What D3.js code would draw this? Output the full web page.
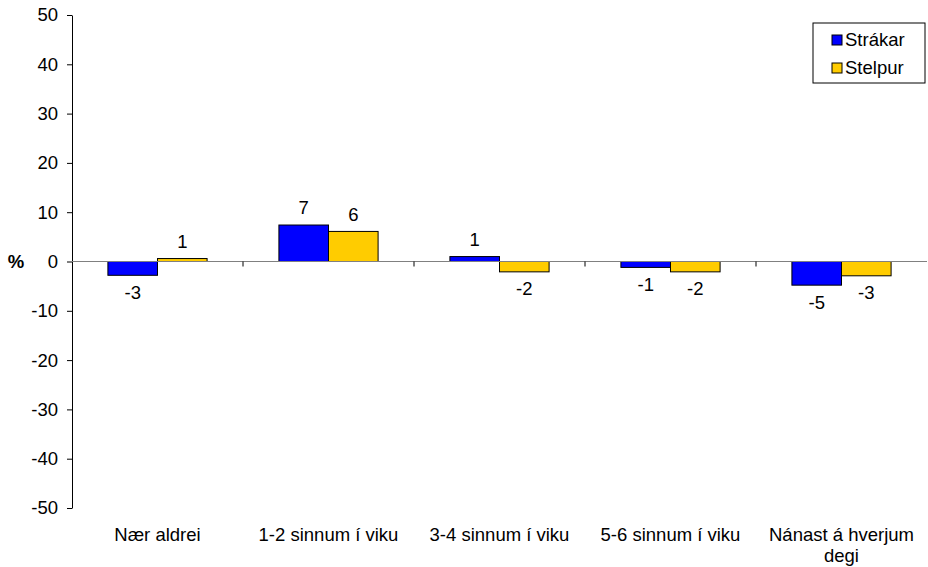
<!DOCTYPE html>
<html>
<head>
<meta charset="utf-8">
<script src="https://cdn.jsdelivr.net/npm/d3@7"></script>
<style>
  html, body { margin: 0; padding: 0; background: #fff; }
  svg { display: block; font-family: "Liberation Sans", Arial, sans-serif; }
</style>
</head>
<body>
<svg id="chart" width="928" height="567"></svg>
<script>
// Categories and series (change in %, boys vs girls)
const categories = ["Nær aldrei", "1-2 sinnum í viku", "3-4 sinnum í viku", "5-6 sinnum í viku", "Nánast á hverjum degi"];
const seriesNames = ["Strákar", "Stelpur"];
const strakar = [-2.8, 7.4, 1.0, -1.2, -4.8];
const stelpur = [0.6, 6.1, -2.1, -2.1, -2.9];
const yTicks = [-50, -40, -30, -20, -10, 0, 10, 20, 30, 40, 50];
const colors = ["#0000FF", "#FFCC00"];

const FS = 18.5;
const locale = d3.formatLocale({ decimal: ",", thousands: ".", grouping: [3], currency: ["", ""], minus: "-" });
const fmtInt = locale.format(".0f");

const svg = d3.select("#chart");
const margin = { top: 15, left: 72, right: 1, bottom: 59 };
const W = 928, H = 567;

const x = d3.scaleBand().domain(categories).range([margin.left, W - margin.right]).paddingInner(0).paddingOuter(0);
const y = d3.scaleLinear().domain([-50, 50]).range([H - margin.bottom, margin.top]);
const groupW = x.bandwidth() * 0.58;
const xs = d3.scaleBand().domain(seriesNames).range([0, groupW]);

const data = categories.map((c, i) => ({ cat: c, vals: [strakar[i], stelpur[i]] }));

// Y axis
const yAxis = d3.axisLeft(y).tickValues(yTicks).tickSize(5).tickSizeOuter(0).tickPadding(9).tickFormat(fmtInt);
const gy = svg.append("g").attr("transform", `translate(${margin.left},0)`).call(yAxis);
gy.select(".domain").attr("stroke", "#000");
gy.selectAll(".tick line").attr("stroke", "#000");
gy.selectAll(".tick text").attr("font-size", FS).attr("fill", "#000").attr("font-family", "Liberation Sans, Arial, sans-serif");

// "%" axis title
svg.append("text").attr("x", 16).attr("y", y(0)).attr("dy", "0.35em")
  .attr("text-anchor", "middle").attr("font-size", FS).attr("font-weight", "bold").text("%");

// Bars
const groups = svg.append("g").selectAll("g").data(data).join("g")
  .attr("transform", d => `translate(${x(d.cat) + (x.bandwidth() - groupW) / 2},0)`);

groups.selectAll("rect").data(d => d.vals.map((v, j) => ({ v, s: seriesNames[j], j }))).join("rect")
  .attr("x", d => xs(d.s))
  .attr("width", xs.bandwidth())
  .attr("y", d => Math.min(y(d.v), y(0)))
  .attr("height", d => Math.abs(y(d.v) - y(0)))
  .attr("fill", d => colors[d.j])
  .attr("stroke", "#000").attr("stroke-width", 1);

// Value labels
groups.selectAll("text.val").data(d => d.vals.map((v, j) => ({ v, s: seriesNames[j] }))).join("text")
  .attr("class", "val")
  .attr("x", d => xs(d.s) + xs.bandwidth() / 2)
  .attr("y", d => d.v >= 0 ? y(d.v) - 17 : y(d.v) + 17)
  .attr("dy", "0.35em")
  .attr("text-anchor", "middle").attr("font-size", FS).attr("fill", "#000")
  .text(d => fmtInt(d.v));

// Zero line with category separators
const zx = svg.append("g");
zx.append("line").attr("x1", margin.left).attr("x2", W - margin.right)
  .attr("y1", y(0)).attr("y2", y(0)).attr("stroke", "#808080").attr("stroke-width", 1);
zx.selectAll("line.sep").data(categories.slice(1)).join("line").attr("class", "sep")
  .attr("x1", d => x(d)).attr("x2", d => x(d))
  .attr("y1", y(0)).attr("y2", y(0) + 5).attr("stroke", "#000");

// Category labels (wrapped)
const wrapW = x.bandwidth() - 8;
const catLabels = svg.append("g").selectAll("text").data(categories).join("text")
  .attr("x", d => x(d) + x.bandwidth() / 2)
  .attr("y", H - margin.bottom + 27)
  .attr("text-anchor", "middle").attr("font-size", FS).attr("fill", "#000");
catLabels.each(function(d) {
  const t = d3.select(this);
  const words = d.split(" ");
  let line = [], lines = [];
  const probe = t.append("tspan");
  words.forEach(w => {
    line.push(w);
    probe.text(line.join(" "));
    if (probe.node().getComputedTextLength() > wrapW && line.length > 1) {
      line.pop(); lines.push(line.join(" ")); line = [w];
    }
  });
  lines.push(line.join(" "));
  probe.remove();
  lines.forEach((l, i) => {
    t.append("tspan").attr("x", t.attr("x")).attr("dy", i === 0 ? "0.35em" : 21).text(l);
  });
});

// Legend
const lg = svg.append("g").attr("transform", "translate(813,23)");
lg.append("rect").attr("width", 112).attr("height", 60).attr("fill", "#fff").attr("stroke", "#000");
seriesNames.forEach((s, i) => {
  const row = lg.append("g").attr("transform", `translate(19,${17 + i * 28})`);
  row.append("rect").attr("x", 0).attr("y", -5).attr("width", 10).attr("height", 10)
    .attr("fill", colors[i]).attr("stroke", "#000");
  row.append("text").attr("x", 13).attr("y", 0).attr("dy", "0.35em")
    .attr("font-size", FS).attr("fill", "#000").text(s);
});
</script>
</body>
</html>
